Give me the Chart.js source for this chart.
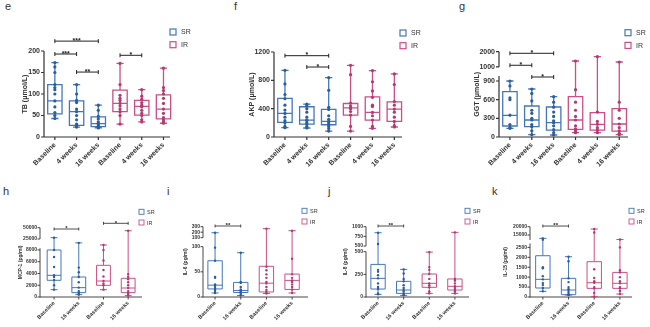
<!DOCTYPE html>
<html><head><meta charset="utf-8">
<script src="https://cdn.jsdelivr.net/npm/chart.js@4"></script>
<style>
body{margin:0;background:#fff;width:650px;height:327px;position:relative;overflow:hidden;font-family:"Liberation Sans",Arial,sans-serif}
canvas{position:absolute}
.lt{position:absolute;font-size:11px;line-height:11px;color:#333}
</style></head><body>
<div class="lt" style="left:5px;top:1px">e</div>
<div class="lt" style="left:234px;top:1px">f</div>
<div class="lt" style="left:459px;top:1px">g</div>
<div class="lt" style="left:3px;top:186px">h</div>
<div class="lt" style="left:167px;top:186px">i</div>
<div class="lt" style="left:328px;top:186px">j</div>
<div class="lt" style="left:492px;top:186px">k</div>
<script>
// ---------- categories ----------
const catsSix = ["Baseline", "4 weeks", "16 weeks", "Baseline", "4 weeks", "16 weeks"];
const catsFour = ["Baseline", "16 weeks", "Baseline", "16 weeks"];
const seriesNames = ["SR", "IR"];

// ---------- box stats per group: [min, Q1, median, Q3, max] ----------
const tbBox = [[43,54,84,122,173],[23,27,59,84,122],[21,24,31,47,74],[30,59,78,109,171],[35,51,71,85,110],[32,42,65,98,160]];
const tbPts = [
  [173,163,150,122,115,110,100,84,70,57,50,43],
  [122,100,85,80,65,59,50,40,30,28,25,23],
  [74,62,48,42,35,31,28,25,24,23,21],
  [171,122,97,90,85,78,72,65,59,50,30],
  [110,95,88,80,74,70,62,55,50,40,35],
  [160,115,108,100,90,78,65,55,45,40,35,32]];
const tbSig = [[0,2,223,"***"],[0,1,193,"***"],[1,2,151,"**"],[3,4,190,"*"]];
const tbTicks = [[0,50,100,150,200]];

const akpBox = [[131,206,333,544,942],[127,183,239,427,464],[84,173,220,389,839],[84,309,412,473,1012],[122,239,347,567,938],[141,220,394,497,891]];
const akpPts = [
  [942,750,600,540,450,380,333,280,230,200,150,131],
  [464,440,400,350,280,240,230,200,183,150,127],
  [839,660,420,390,300,250,220,200,175,150,120,84],
  [1012,880,480,440,412,400,360,310,150,84],
  [938,780,650,560,450,430,347,300,240,150,122],
  [891,740,500,450,394,350,280,220,160,141]];
const akpSig = [[0,2,1148,"*"],[1,2,988,"*"]];
const akpTicks = [[0,400,800,1200]];

const ggtBox = [[139,177,348,729,900],[37,166,273,498,771],[32,112,230,482,648],[70,123,273,648,1391],[70,112,204,391,1674],[37,96,209,455,1326]];
const ggtPts = [
  [900,820,630,600,350,200,150,139],
  [771,700,580,430,380,300,273,200,166,100,37],
  [648,560,480,400,330,260,230,180,120,70,32],
  [1391,760,560,430,330,273,180,130,100,70],
  [1674,400,250,204,150,110,70],
  [1326,560,430,300,209,150,100,60,37]];
const ggtSig = [[0,2,1895,"*"],[0,1,1111,"*"],[1,2,964,"*"]];
const ggtTicks = [[0,300,600,900],[1000,2000]];

const mcpBox = [[1250,2840,3690,8000,27900],[400,740,1590,3400,18000],[1250,1990,2720,5390,14200],[230,740,1530,3180,43400]];
const mcpPts = [
  [27900,8000,6800,5100,3700,3400,2900,2000,1250],
  [18000,5000,4200,3400,2500,1600,1000,740,500,400],
  [14200,8000,6200,4600,3500,2720,2300,1990,1250],
  [43400,3900,3400,3000,2500,2000,1530,1000,740,500,230]];
const mcpSig = [[0,1,47100,"*"],[2,3,59700,"*"]];
const mcpTicks = [[0,2000,4000,6000,8000],[25000,50000]];

const il6Box = [[8,16,23.5,72,190],[3,9,13,29,88],[7,10,27.5,61,264],[8,15,33,45.6,227]];
const il6Pts = [
  [190,98,72,40,38,25,22,18,16,12,8],
  [88,30,28,20,15,13,10,9,6,3],
  [264,60,53,45,38,30,27,20,14,10,7],
  [227,76,45,38,33,30,25,20,15,8]];
const il6Sig = [[0,1,313,"**"]];
const il6Ticks = [[0,50,100],[100,200,300]];

const il8Box = [[29,88,206,360,844],[18,40,77,173,305],[40,107,151,254,496],[40,77,118,199,854]];
const il8Pts = [
  [844,552,300,280,240,206,150,110,88,40,29],
  [305,260,200,173,130,100,77,60,40,25,18],
  [496,330,300,254,200,151,130,107,60,40],
  [854,200,180,150,118,100,77,60,40]];
const il8Sig = [[0,1,1018,"**"]];
const il8Ticks = [[0,250,500],[500,750,1000]];

const il15Box = [[285,453,890,2080,13000],[100,117,352,940,2030],[17,436,720,1780,18600],[150,436,690,1240,12300]];
const il15Pts = [
  [13000,12200,1500,1450,1050,890,700,600,453,285],
  [2030,1800,940,750,500,400,352,250,150,117,100],
  [18600,16500,1400,960,800,720,500,436,200,17],
  [12300,2500,1350,1240,1000,800,690,500,436,300,150]];
const il15Sig = [[0,1,20400,"**"]];
const il15Ticks = [[0,500,1000,1500,2000,2500],[15000,20000]];

// ---------- styling ----------
const BLUE = "#4477b8", BLUE_PT = "#2c5d9c";
const PINK = "#cc4f86", PINK_PT = "#b53872";
const INK = "#333333";
const FAM = '"Liberation Sans", Arial, sans-serif';

// ---------- broken-axis scale ----------
const BRK = {};
class BrokenScale extends Chart.LinearScale {
  static id = "broken";
  static defaults = {};
  determineDataLimits() {
    const s = BRK[this.options.brk];
    this.min = s[0].min; this.max = s[s.length - 1].max;
  }
  buildTicks() {
    const s = BRK[this.options.brk]; const out = [];
    s.forEach((g, gi) => g.ticks.forEach(v => out.push({value: v, seg: gi, lbl: String(v)})));
    this.start = this.min; this.end = this.max;
    return out;
  }
  frac(v, si) {
    const segs = BRK[this.options.brk];
    let s = si != null ? segs[si] : null;
    if (!s) {
      for (let k = 0; k < segs.length; k++) {
        if (v <= segs[k].max) {
          if (v >= segs[k].min || k === 0) { s = segs[k]; break; }
          const p = segs[k - 1];
          const t = (v - p.max) / (segs[k].min - p.max);
          return p.to + t * (segs[k].from - p.to);
        }
      }
      if (!s) s = segs[segs.length - 1];
    }
    return s.from + (v - s.min) / (s.max - s.min) * (s.to - s.from);
  }
  getPixelForValue(v) { return this.getPixelForDecimal(this.frac(v)); }
  getPixelForTick(i) { const t = this.ticks[i]; return t ? this.getPixelForDecimal(this.frac(t.value, t.seg)) : null; }
  getValueForPixel(p) { return this.min + this.getDecimalForPixel(p) * (this.max - this.min); }
}
Chart.register(BrokenScale);

function segs(ticks, ranges) {
  return ranges.map((r, i) => ({min: r[0], max: r[1], from: r[2], to: r[3], ticks: ticks[i]}));
}
BRK.e = segs(tbTicks, [[0, 200, 0, 1]]);
BRK.f = segs(akpTicks, [[0, 1200, 0, 1]]);
BRK.g = segs(ggtTicks, [[0, 980, 0, 0.715], [1000, 2000, 0.821, 1]]);
BRK.h = segs(mcpTicks, [[0, 8300, 0, 0.704], [25000, 50000, 0.837, 1]]);
BRK.i = segs(il6Ticks, [[0, 100, 0, 0.716], [100, 300, 0.844, 1]]);
BRK.j = segs(il8Ticks, [[0, 500, 0, 0.644], [500, 1000, 0.725, 1]]);
BRK.k = segs(il15Ticks, [[0, 2700, 0, 0.762], [12000, 20000, 0.811, 1]]);

const TOP = {big: true, fs: 7, xfs: 7, lfs: 7, sfs: 7, bw: 0.66, pr: 1.6, tk: 3, ypad: 4, xpad: 4,
  canvasTop: 18, canvasBottom: 178, legDx: 126, legDy: -22, legS: 6, legGap: 12.7, legTx: 5};
const BOT = {big: false, fs: 5, xfs: 5.5, lfs: 5.5, sfs: 6, bw: 0.56, pr: 1.2, tk: 2.5, ypad: 3, xpad: 3,
  canvasTop: 200, canvasBottom: 327, legDx: 99, legDy: -18.4, legS: 5, legGap: 10.7, legTx: 3};

const panels = [
  Object.assign({}, TOP, {key: "e", title: "TB (μmol/L)", L: 44, R: 170, T: 51, B: 137, titleX: 25, canvasRight: 205, xmin: -0.5, xmax: 5.3, cats: catsSix, box: tbBox, pts: tbPts, sig: tbSig}),
  Object.assign({}, TOP, {key: "f", title: "AKP (μmol/L)", L: 274, R: 402, T: 52, B: 137, titleX: 251.7, canvasRight: 440, xmin: -0.5, xmax: 5.35, cats: catsSix, box: akpBox, pts: akpPts, sig: akpSig}),
  Object.assign({}, TOP, {key: "g", title: "GGT (μmol/L)", L: 499, R: 628, T: 51.7, B: 137, titleX: 476.7, canvasRight: 650, xmin: -0.5, xmax: 5.4, cats: catsSix, box: ggtBox, pts: ggtPts, sig: ggtSig}),
  Object.assign({}, BOT, {key: "h", title: "MCP-1 (pg/ml)", L: 40, R: 142, T: 227.7, B: 297, titleX: 20.7, canvasRight: 180, xmin: -0.57, xmax: 3.56, cats: catsFour, box: mcpBox, pts: mcpPts, sig: mcpSig}),
  Object.assign({}, BOT, {key: "i", title: "IL-6 (pg/ml)", L: 203, R: 308, T: 226.7, B: 297, titleX: 185.7, canvasRight: 340, xmin: -0.47, xmax: 3.62, cats: catsFour, box: il6Box, pts: il6Pts, sig: il6Sig}),
  Object.assign({}, BOT, {key: "j", title: "IL-8 (pg/ml)", L: 366, R: 469, T: 226.7, B: 297, titleX: 345.7, canvasRight: 500, xmin: -0.47, xmax: 3.55, cats: catsFour, box: il8Box, pts: il8Pts, sig: il8Sig}),
  Object.assign({}, BOT, {key: "k", title: "IL-15 (pg/ml)", L: 530, R: 632, T: 226.7, B: 297, titleX: 505.7, canvasRight: 650, xmin: -0.5, xmax: 3.47, cats: catsFour, box: il15Box, pts: il15Pts, sig: il15Sig})
];

function overlay(p) {
  const line = (ctx, x1, y1, x2, y2) => { ctx.moveTo(x1, y1); ctx.lineTo(x2, y2); };
  return {
    id: "ov_" + p.key,
    beforeDatasetsDraw(chart) {
      const {ctx, chartArea: a, scales: {x, y}} = chart;
      ctx.save();
      ctx.strokeStyle = INK; ctx.lineWidth = p.big ? 1.2 : 0.9;
      ctx.beginPath();
      BRK[p.key].forEach(s => line(ctx, a.left, y.getPixelForDecimal(s.from) + (s.from === 0 ? 0.5 : 0), a.left, y.getPixelForDecimal(s.to)));
      y.ticks.forEach((t, i) => { const py = y.getPixelForTick(i); line(ctx, a.left - p.tk, py, a.left, py); });
      line(ctx, a.left, a.bottom, a.right, a.bottom);
      p.cats.forEach((c, i) => { const px = x.getPixelForValue(i); line(ctx, px, a.bottom, px, a.bottom + p.tk); });
      ctx.stroke();
      const n = p.box.length;
      p.box.forEach((b, i) => {
        const cx = x.getPixelForValue(i);
        const hw = (x.getPixelForValue(i + p.bw / 2) - x.getPixelForValue(i - p.bw / 2)) / 2;
        const cw = hw * 0.5;
        const [mn, q1, md, q3, mx] = b.map(v => y.getPixelForValue(v));
        ctx.strokeStyle = i < n / 2 ? BLUE : PINK;
        ctx.lineWidth = p.big ? 1.3 : 1;
        ctx.beginPath();
        ctx.rect(cx - hw, q3, 2 * hw, q1 - q3);
        line(ctx, cx - hw, md, cx + hw, md);
        line(ctx, cx, q3, cx, mx); line(ctx, cx - cw, mx, cx + cw, mx);
        line(ctx, cx, q1, cx, mn); line(ctx, cx - cw, mn, cx + cw, mn);
        ctx.stroke();
      });
      ctx.restore();
    },
    afterDraw(chart) {
      const {ctx, chartArea: a, scales: {x, y}} = chart;
      ctx.save();
      // significance brackets
      ctx.strokeStyle = "#222"; ctx.fillStyle = "#222";
      ctx.lineWidth = p.big ? 1 : 0.8;
      ctx.font = "bold " + p.sfs + "px " + FAM;
      ctx.textAlign = "center"; ctx.textBaseline = "alphabetic";
      const ch = p.big ? 2 : 1.5;
      p.sig.forEach(([i1, i2, v, lab]) => {
        const py = y.getPixelForValue(v), x1 = x.getPixelForValue(i1), x2 = x.getPixelForValue(i2);
        ctx.beginPath();
        line(ctx, x1, py, x2, py); line(ctx, x1, py - ch, x1, py + ch); line(ctx, x2, py - ch, x2, py + ch);
        ctx.stroke();
        ctx.fillText(lab, (x1 + x2) / 2, py + (p.big ? 1.5 : 1.2));
      });
      // legend
      const lx = a.left + p.legDx, ly = a.top + p.legDy;
      ctx.font = p.lfs + "px " + FAM; ctx.textAlign = "left"; ctx.textBaseline = "middle";
      [[seriesNames[0], BLUE], [seriesNames[1], PINK]].forEach(([t, c], k) => {
        const by = ly + k * p.legGap;
        ctx.strokeStyle = c; ctx.lineWidth = p.big ? 1.2 : 0.9;
        ctx.strokeRect(lx, by, p.legS, p.legS);
        ctx.fillStyle = INK;
        ctx.fillText(t, lx + p.legS + p.legTx, by + p.legS / 2 + 0.5);
      });
      ctx.restore();
    }
  };
}

panels.forEach(p => {
  const cv = document.createElement("canvas");
  const left = Math.round(p.titleX - p.fs * 0.6);
  const top = p.canvasTop;
  const w = p.canvasRight - left, h = p.canvasBottom - top;
  cv.width = w; cv.height = h;
  cv.style.left = left + "px"; cv.style.top = top + "px";
  cv.style.width = w + "px"; cv.style.height = h + "px";
  document.body.appendChild(cv);
  const yw = p.L - left, padTop = p.T - top, padRight = p.canvasRight - p.R, xh = p.canvasBottom - p.B;
  const n = p.pts.length;
  new Chart(cv, {
    type: "scatter",
    data: {
      datasets: p.pts.map((arr, i) => ({
        label: p.cats[i],
        data: arr.map(v => ({x: i, y: v})),
        pointRadius: p.pr, pointBorderWidth: 0,
        pointBackgroundColor: i < n / 2 ? BLUE_PT : PINK_PT,
        showLine: false
      }))
    },
    options: {
      responsive: false, animation: false, devicePixelRatio: 1,
      layout: {padding: {top: padTop, right: padRight, left: 0, bottom: 0}},
      plugins: {legend: {display: false}, tooltip: {enabled: false}},
      scales: {
        x: {
          type: "linear", min: p.xmin, max: p.xmax,
          grid: {display: false, drawTicks: false, tickLength: 0}, border: {display: false},
          afterBuildTicks: s => { s.ticks = p.cats.map((c, i) => ({value: i})); },
          afterFit: s => { s.height = xh; },
          ticks: {autoSkip: false, minRotation: 45, maxRotation: 45, padding: p.xpad, color: INK,
            font: {family: FAM, size: p.xfs, weight: "bold"}, callback: v => p.cats[v]}
        },
        y: {
          type: "broken", brk: p.key,
          grid: {display: false, drawTicks: false, tickLength: 0}, border: {display: false},
          afterFit: s => { s.width = yw; },
          ticks: {autoSkip: false, padding: p.ypad, color: INK,
            font: {family: FAM, size: p.fs, weight: "bold"}, callback: (v, i, t) => t[i].lbl},
          title: {display: true, text: p.title, color: INK, padding: 0,
            font: {family: FAM, size: p.fs, weight: "bold"}}
        }
      }
    },
    plugins: [overlay(p)]
  });
});
</script>
</body></html>
